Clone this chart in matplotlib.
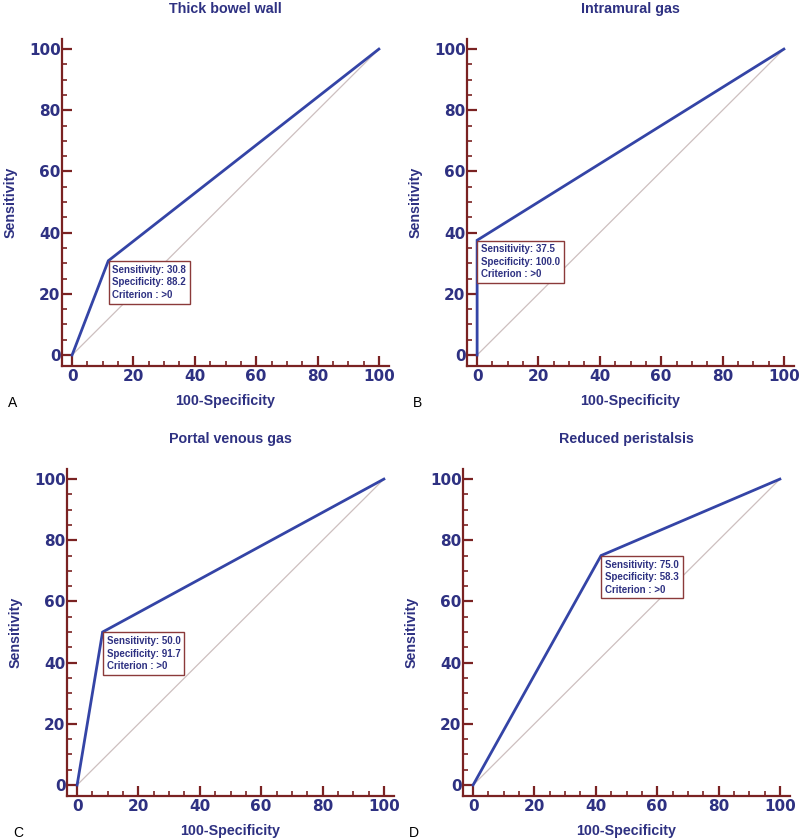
import matplotlib
matplotlib.use("Agg")
import matplotlib.pyplot as plt
from matplotlib.ticker import MultipleLocator

# ROC data (100-Specificity, Sensitivity) for each sign
titles = ["Thick bowel wall", "Intramural gas", "Portal venous gas", "Reduced peristalsis"]
letters = ["A", "B", "C", "D"]
sensitivity = [30.8, 37.5, 50.0, 75.0]
specificity = [88.2, 100.0, 91.7, 58.3]
criterion = [">0", ">0", ">0", ">0"]

NAVY = "#2e3182"
LINE = "#3444a6"
SPINE = "#7a2222"
DIAG = "#cdbfbf"
ARIAL = ["Liberation Sans", "DejaVu Sans"]

W, H = 800, 839
# axes boxes in pixels: left, top, right, bottom (spine positions)
boxes = [(62, 39, 389, 366), (467, 39, 794, 366),
         (67, 469, 394, 796), (463, 469, 790, 796)]

fig = plt.figure(figsize=(W / 100, H / 100), dpi=100)

for i in range(4):
    l, t, r, b = boxes[i]
    ax = fig.add_axes([l / W, 1 - b / H, (r - l) / W, (b - t) / H])

    fpr = 100 - specificity[i]
    xs = [0, fpr, 100]
    ys = [0, sensitivity[i], 100]

    ax.plot([0, 100], [0, 100], color=DIAG, lw=0.9, zorder=1)
    ax.plot(xs, ys, color=LINE, lw=2.0, zorder=2, solid_joinstyle="miter")

    txt = (f"Sensitivity: {sensitivity[i]:.1f}\n"
           f"Specificity: {specificity[i]:.1f}\n"
           f"Criterion : {criterion[i]}")
    ax.annotate(txt, xy=(fpr, sensitivity[i]), xytext=(3.0, -3.0),
                textcoords="offset points", ha="left", va="top",
                fontsize=7, fontweight="bold", color=NAVY,
                family=ARIAL, linespacing=1.3, zorder=5,
                bbox=dict(boxstyle="square,pad=0.4", fc="white",
                          ec="#8b3a3a", lw=1.0))

    ax.set_xlim(-3.3, 103.3)
    ax.set_ylim(-3.6, 103.3)

    for s in ["top", "right"]:
        ax.spines[s].set_visible(False)
    for s in ["left", "bottom"]:
        ax.spines[s].set_color(SPINE)
        ax.spines[s].set_linewidth(1.6)

    ax.xaxis.set_major_locator(MultipleLocator(20))
    ax.xaxis.set_minor_locator(MultipleLocator(5))
    ax.yaxis.set_major_locator(MultipleLocator(20))
    ax.yaxis.set_minor_locator(MultipleLocator(5))
    ax.tick_params(which="major", direction="in", length=7.5, width=1.6,
                   color=SPINE, labelcolor=NAVY, labelsize=11, pad=2.5)
    ax.tick_params(which="minor", direction="in", length=3.8, width=1.2,
                   color=SPINE)
    ax.tick_params(axis="y", which="major", pad=1)
    for lab in ax.get_xticklabels() + ax.get_yticklabels():
        lab.set_fontweight("bold")

    ax.set_title(titles[i], fontsize=10.3, fontweight="bold", color=NAVY,
                 family=ARIAL, pad=19)
    ax.set_xlabel("100-Specificity", fontsize=10.3, fontweight="bold",
                  color=NAVY, family=ARIAL, labelpad=6.5)
    ax.set_ylabel("Sensitivity", fontsize=10.3, fontweight="bold",
                  color=NAVY, family=ARIAL, labelpad=8)

    fig.text((l - 54) / W, 1 - (b + 37) / H, letters[i], fontsize=10,
             family=ARIAL, ha="left", va="center", color="black")

fig.savefig("out.png", dpi=100, facecolor="white")
